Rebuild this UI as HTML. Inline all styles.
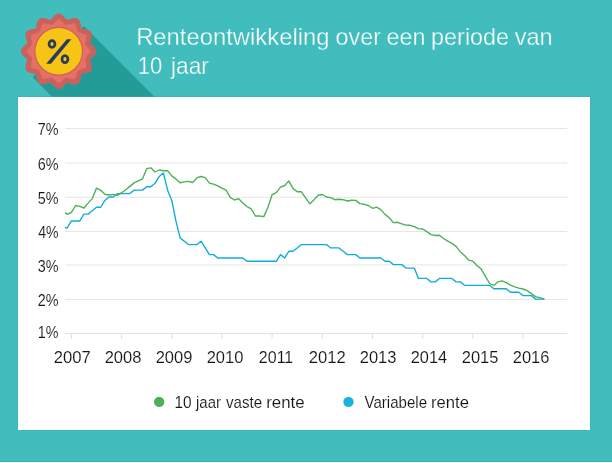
<!DOCTYPE html>
<html><head><meta charset="utf-8"><title>Renteontwikkeling</title>
<style>
html,body{margin:0;padding:0;background:#41bdbd;}
body{width:612px;height:463px;overflow:hidden;font-family:"Liberation Sans",sans-serif;}
svg{display:block}
text{font-family:"Liberation Sans",sans-serif;}
</style></head><body>
<svg width="612" height="463" viewBox="0 0 612 463">
<defs><filter id="gs" x="-5%" y="-30%" width="110%" height="160%" color-interpolation-filters="sRGB"><feOffset dx="0" dy="0"/></filter></defs>
<rect width="612" height="463" fill="#41bdbd"/>
<rect y="462" width="612" height="1" fill="#f4fbfb"/>
<rect y="461" width="612" height="1" fill="#39b4b3"/>
<!-- long shadow -->
<polygon points="83.8,26.1 154.7,97 52.3,97 32.6,77.3" fill="#239b97"/>
<!-- panel -->
<rect x="17.5" y="96.5" width="573" height="334" fill="#35b0af"/>
<rect x="18" y="97" width="572" height="333" fill="#ffffff"/>
<!-- badge -->
<polygon points="58.70,13.55 59.36,13.60 60.01,13.73 60.65,13.95 61.29,14.26 61.90,14.64 62.50,15.08 63.08,15.59 63.64,16.13 64.17,16.71 64.69,17.30 65.18,17.90 65.67,18.48 66.14,19.02 66.62,19.50 67.11,19.86 67.72,19.80 68.37,19.62 69.05,19.39 69.76,19.13 70.49,18.86 71.23,18.60 71.98,18.37 72.74,18.17 73.49,18.03 74.23,17.94 74.96,17.92 75.66,17.97 76.32,18.10 76.96,18.31 77.55,18.60 78.10,18.97 78.59,19.41 79.04,19.93 79.44,20.51 79.78,21.14 80.07,21.83 80.32,22.55 80.53,23.30 80.71,24.07 80.86,24.84 80.99,25.61 81.12,26.35 81.26,27.06 81.43,27.71 81.68,28.27 82.24,28.52 82.89,28.69 83.60,28.83 84.34,28.96 85.11,29.09 85.88,29.24 86.65,29.42 87.40,29.63 88.12,29.88 88.81,30.17 89.44,30.51 90.02,30.91 90.54,31.36 90.98,31.85 91.35,32.40 91.64,32.99 91.85,33.63 91.98,34.29 92.03,34.99 92.01,35.72 91.92,36.46 91.78,37.21 91.58,37.97 91.35,38.72 91.09,39.46 90.82,40.19 90.56,40.90 90.33,41.58 90.15,42.23 90.09,42.84 90.45,43.33 90.93,43.81 91.47,44.28 92.05,44.77 92.65,45.26 93.24,45.78 93.82,46.31 94.36,46.87 94.87,47.45 95.31,48.05 95.69,48.66 96.00,49.30 96.22,49.94 96.35,50.59 96.40,51.25 96.35,51.91 96.22,52.56 96.00,53.20 95.69,53.84 95.31,54.45 94.87,55.05 94.36,55.63 93.82,56.19 93.24,56.72 92.65,57.24 92.05,57.73 91.47,58.22 90.93,58.69 90.45,59.17 90.09,59.66 90.15,60.27 90.33,60.92 90.56,61.60 90.82,62.31 91.09,63.04 91.35,63.78 91.58,64.53 91.78,65.29 91.92,66.04 92.01,66.78 92.03,67.51 91.98,68.21 91.85,68.87 91.64,69.51 91.35,70.10 90.98,70.65 90.54,71.14 90.02,71.59 89.44,71.99 88.81,72.33 88.12,72.62 87.40,72.87 86.65,73.08 85.88,73.26 85.11,73.41 84.34,73.54 83.60,73.67 82.89,73.81 82.24,73.98 81.68,74.23 81.43,74.79 81.26,75.44 81.12,76.15 80.99,76.89 80.86,77.66 80.71,78.43 80.53,79.20 80.32,79.95 80.07,80.67 79.78,81.36 79.44,81.99 79.04,82.57 78.59,83.09 78.10,83.53 77.55,83.90 76.96,84.19 76.32,84.40 75.66,84.53 74.96,84.58 74.23,84.56 73.49,84.47 72.74,84.33 71.98,84.13 71.23,83.90 70.49,83.64 69.76,83.37 69.05,83.11 68.37,82.88 67.72,82.70 67.11,82.64 66.62,83.00 66.14,83.48 65.67,84.02 65.18,84.60 64.69,85.20 64.17,85.79 63.64,86.37 63.08,86.91 62.50,87.42 61.90,87.86 61.29,88.24 60.65,88.55 60.01,88.77 59.36,88.90 58.70,88.95 58.04,88.90 57.39,88.77 56.75,88.55 56.11,88.24 55.50,87.86 54.90,87.42 54.32,86.91 53.76,86.37 53.23,85.79 52.71,85.20 52.22,84.60 51.73,84.02 51.26,83.48 50.78,83.00 50.29,82.64 49.68,82.70 49.03,82.88 48.35,83.11 47.64,83.37 46.91,83.64 46.17,83.90 45.42,84.13 44.66,84.33 43.91,84.47 43.17,84.56 42.44,84.58 41.74,84.53 41.08,84.40 40.44,84.19 39.85,83.90 39.30,83.53 38.81,83.09 38.36,82.57 37.96,81.99 37.62,81.36 37.33,80.67 37.08,79.95 36.87,79.20 36.69,78.43 36.54,77.66 36.41,76.89 36.28,76.15 36.14,75.44 35.97,74.79 35.72,74.23 35.16,73.98 34.51,73.81 33.80,73.67 33.06,73.54 32.29,73.41 31.52,73.26 30.75,73.08 30.00,72.87 29.28,72.62 28.59,72.33 27.96,71.99 27.38,71.59 26.86,71.14 26.42,70.65 26.05,70.10 25.76,69.51 25.55,68.87 25.42,68.21 25.37,67.51 25.39,66.78 25.48,66.04 25.62,65.29 25.82,64.53 26.05,63.78 26.31,63.04 26.58,62.31 26.84,61.60 27.07,60.92 27.25,60.27 27.31,59.66 26.95,59.17 26.47,58.69 25.93,58.22 25.35,57.73 24.75,57.24 24.16,56.72 23.58,56.19 23.04,55.63 22.53,55.05 22.09,54.45 21.71,53.84 21.40,53.20 21.18,52.56 21.05,51.91 21.00,51.25 21.05,50.59 21.18,49.94 21.40,49.30 21.71,48.66 22.09,48.05 22.53,47.45 23.04,46.87 23.58,46.31 24.16,45.78 24.75,45.26 25.35,44.77 25.93,44.28 26.47,43.81 26.95,43.33 27.31,42.84 27.25,42.23 27.07,41.58 26.84,40.90 26.58,40.19 26.31,39.46 26.05,38.72 25.82,37.97 25.62,37.21 25.48,36.46 25.39,35.72 25.37,34.99 25.42,34.29 25.55,33.63 25.76,32.99 26.05,32.40 26.42,31.85 26.86,31.36 27.38,30.91 27.96,30.51 28.59,30.17 29.28,29.88 30.00,29.63 30.75,29.42 31.52,29.24 32.29,29.09 33.06,28.96 33.80,28.83 34.51,28.69 35.16,28.52 35.72,28.27 35.97,27.71 36.14,27.06 36.28,26.35 36.41,25.61 36.54,24.84 36.69,24.07 36.87,23.30 37.08,22.55 37.33,21.83 37.62,21.14 37.96,20.51 38.36,19.93 38.81,19.41 39.30,18.97 39.85,18.60 40.44,18.31 41.08,18.10 41.74,17.97 42.44,17.92 43.17,17.94 43.91,18.03 44.66,18.17 45.42,18.37 46.17,18.60 46.91,18.86 47.64,19.13 48.35,19.39 49.03,19.62 49.68,19.80 50.29,19.86 50.78,19.50 51.26,19.02 51.73,18.48 52.22,17.90 52.71,17.30 53.23,16.71 53.76,16.13 54.32,15.59 54.90,15.08 55.50,14.64 56.11,14.26 56.75,13.95 57.39,13.73 58.04,13.60" fill="#c9625d"/>
<polygon points="58.70,19.25 65.69,25.17 74.70,23.54 77.79,32.16 86.41,35.25 84.78,44.26 90.70,51.25 84.78,58.24 86.41,67.25 77.79,70.34 74.70,78.96 65.69,77.33 58.70,83.25 51.71,77.33 42.70,78.96 39.61,70.34 30.99,67.25 32.62,58.24 26.70,51.25 32.62,44.26 30.99,35.25 39.61,32.16 42.70,23.54 51.71,25.17" fill="#e66f66" stroke="#e66f66" stroke-width="0.6" stroke-linejoin="round"/>
<circle cx="58.7" cy="51.25" r="24.4" fill="#c9625d"/>
<circle cx="58.7" cy="51.25" r="23.2" fill="#f5c414"/>
<g fill="none" stroke="#2a3a5c" stroke-width="2.7">
<ellipse cx="52" cy="43.95" rx="2.95" ry="3.4"/>
<ellipse cx="64.95" cy="59.15" rx="2.95" ry="3.5"/>
</g>
<polygon points="66.9,39.2 71.3,39.2 51,63.8 46.2,63.8" fill="#2a3a5c"/>
<!-- title -->
<g filter="url(#gs)" fill="#ffffff" font-size="23.4px" stroke="#41bdbd" stroke-width="0.3"><text transform="translate(136.16,44.80) scale(1.0185,1)">Renteontwikkeling</text><text transform="translate(335.60,44.80) scale(0.9977,1)">over</text><text transform="translate(386.60,44.80) scale(0.9973,1)">een</text><text transform="translate(431.10,44.80) scale(1.0000,1)">periode</text><text transform="translate(514.65,44.80) scale(1.0056,1)">van</text><text transform="translate(137.74,73.80) scale(0.9462,1)">10</text><text transform="translate(171.08,73.80) scale(0.9692,1)">jaar</text></g>
<!-- chart -->
<rect x="65.2" y="298.90" width="502" height="1" fill="#e6e6e6"/><rect x="65.2" y="264.45" width="502" height="1" fill="#e6e6e6"/><rect x="65.2" y="231.00" width="502" height="1" fill="#e6e6e6"/><rect x="65.2" y="196.80" width="502" height="1" fill="#e6e6e6"/><rect x="65.2" y="162.50" width="502" height="1" fill="#e6e6e6"/><rect x="65.2" y="127.95" width="502" height="1" fill="#e6e6e6"/>
<rect x="65.2" y="333" width="502" height="1" fill="#d6e0ef"/>
<rect x="70.90" y="333" width="1" height="6" fill="#d6e0ef"/><rect x="121.08" y="333" width="1" height="6" fill="#d6e0ef"/><rect x="171.26" y="333" width="1" height="6" fill="#d6e0ef"/><rect x="221.44" y="333" width="1" height="6" fill="#d6e0ef"/><rect x="271.62" y="333" width="1" height="6" fill="#d6e0ef"/><rect x="321.80" y="333" width="1" height="6" fill="#d6e0ef"/><rect x="371.98" y="333" width="1" height="6" fill="#d6e0ef"/><rect x="422.16" y="333" width="1" height="6" fill="#d6e0ef"/><rect x="472.34" y="333" width="1" height="6" fill="#d6e0ef"/><rect x="522.52" y="333" width="1" height="6" fill="#d6e0ef"/>
<g filter="url(#gs)" font-size="16.6px" fill="#151515" stroke="#fff" stroke-width="0.12"><text transform="translate(37.82,337.85) scale(0.8629,1)">1%</text><text transform="translate(37.75,306.00) scale(0.8659,1)">2%</text><text transform="translate(37.75,271.55) scale(0.8659,1)">3%</text><text transform="translate(38.19,238.10) scale(0.8473,1)">4%</text><text transform="translate(37.75,203.90) scale(0.8659,1)">5%</text><text transform="translate(37.75,169.60) scale(0.8659,1)">6%</text><text transform="translate(37.75,135.05) scale(0.8659,1)">7%</text><text transform="translate(53.65,362.90) scale(1.0014,1)">2007</text><text transform="translate(104.66,362.90) scale(0.9944,1)">2008</text><text transform="translate(155.67,362.90) scale(0.9944,1)">2009</text><text transform="translate(206.68,362.90) scale(0.9944,1)">2010</text><text transform="translate(258.87,362.90) scale(0.9635,1)">2011</text><text transform="translate(308.70,362.90) scale(1.0014,1)">2012</text><text transform="translate(359.71,362.90) scale(0.9944,1)">2013</text><text transform="translate(410.73,362.90) scale(0.9874,1)">2014</text><text transform="translate(461.73,362.90) scale(0.9944,1)">2015</text><text transform="translate(512.74,362.90) scale(0.9944,1)">2016</text></g>
<clipPath id="cp"><rect x="65.2" y="120" width="502" height="214"/></clipPath>
<g clip-path="url(#cp)" fill="none" stroke-width="1.38" stroke-linejoin="round" stroke-linecap="round">
<polyline points="63.0,227.78 67.2,227.78 71.4,220.94 75.6,220.94 79.8,220.94 83.9,214.10 88.1,214.10 92.3,210.68 96.5,207.26 100.7,207.26 104.9,200.42 109.0,197.00 113.2,197.00 117.4,193.57 121.6,193.57 125.8,193.57 129.9,193.57 134.1,190.14 138.3,190.14 142.5,190.14 146.7,186.71 150.9,186.71 155.0,183.28 159.2,176.42 163.4,172.99 167.6,190.14 171.8,200.42 175.9,220.94 180.1,237.89 184.3,241.23 188.5,244.58 192.7,244.58 196.9,244.58 201.0,241.23 205.2,247.92 209.4,254.61 213.6,254.61 217.8,257.96 221.9,257.96 226.1,257.96 230.3,257.96 234.5,257.96 238.7,257.96 242.8,257.96 247.0,261.30 251.2,261.30 255.4,261.30 259.6,261.30 263.8,261.30 267.9,261.30 272.1,261.30 276.3,261.30 280.5,254.61 284.7,257.96 288.8,251.27 293.0,251.27 297.2,247.92 301.4,244.58 305.6,244.58 309.8,244.58 313.9,244.58 318.1,244.58 322.3,244.58 326.5,244.58 330.7,247.92 334.8,247.92 339.0,247.92 343.2,251.27 347.4,254.61 351.6,254.61 355.8,254.61 359.9,257.96 364.1,257.96 368.3,257.96 372.5,257.96 376.7,257.96 380.8,257.96 385.0,261.30 389.2,261.30 393.4,264.65 397.6,264.65 401.8,264.65 405.9,268.09 410.1,268.09 414.3,268.09 418.5,278.43 422.7,278.43 426.8,278.43 431.0,281.87 435.2,281.87 439.4,278.43 443.6,278.43 447.8,278.43 451.9,278.43 456.1,281.87 460.3,281.87 464.5,285.32 468.7,285.32 472.8,285.32 477.0,285.32 481.2,285.32 485.4,285.32 489.6,285.32 493.8,288.76 497.9,288.76 502.1,288.76 506.3,288.76 510.5,292.21 514.7,292.21 518.8,292.21 523.0,295.65 527.2,295.65 531.4,295.65 535.6,299.10 539.8,299.10 543.9,299.10" stroke="#10acda"/>
<polyline points="63.0,211.2 67.2,214.3 71.4,212.3 75.6,205.5 79.8,206.4 83.9,208.0 88.1,203.1 92.3,198.6 96.5,188.1 100.7,190.3 104.9,194.2 109.0,195.0 113.2,194.4 117.4,195.3 121.6,192.7 125.8,189.8 129.9,186.4 134.1,182.9 138.3,180.8 142.5,178.8 146.7,168.7 150.9,167.8 155.0,172.0 159.2,170.0 163.4,170.7 167.6,170.7 171.8,175.9 175.9,178.9 180.1,182.7 184.3,181.9 188.5,181.4 192.7,182.5 196.9,177.9 201.0,176.5 205.2,177.6 209.4,183.2 213.6,184.2 217.8,185.9 221.9,188.1 226.1,190.2 230.3,197.3 234.5,200.0 238.7,198.7 242.8,202.9 247.0,206.6 251.2,208.8 255.4,216.0 259.6,216.0 263.8,216.6 267.9,207.5 272.1,194.7 276.3,192.6 280.5,187.2 284.7,185.5 288.8,180.9 293.0,188.4 297.2,191.8 301.4,191.8 305.6,197.9 309.8,203.8 313.9,199.9 318.1,195.3 322.3,194.5 326.5,197.0 330.7,197.6 334.8,199.7 339.0,199.2 343.2,199.7 347.4,201.0 351.6,200.2 355.8,200.4 359.9,203.6 364.1,204.3 368.3,205.5 372.5,208.3 376.7,207.2 380.8,209.6 385.0,214.4 389.2,217.7 393.4,222.6 397.6,222.3 401.8,223.8 405.9,225.1 410.1,225.3 414.3,226.7 418.5,228.6 422.7,229.0 426.8,231.7 431.0,234.6 435.2,235.5 439.4,235.3 443.6,238.5 447.8,241.1 451.9,243.4 456.1,246.4 460.3,251.8 464.5,255.5 468.7,260.1 472.8,261.2 477.0,265.5 481.2,269.1 485.4,276.3 489.6,283.5 493.8,285.5 497.9,281.8 502.1,280.8 506.3,282.7 510.5,285.1 514.7,286.8 518.8,288.1 523.0,289.0 527.2,290.6 531.4,293.6 535.6,296.6 539.8,297.6 543.9,298.8" stroke="#4cb05a"/>
</g>
<!-- legend -->
<circle cx="159.2" cy="401.9" r="5.2" fill="#4cb05a"/>
<circle cx="348.5" cy="401.9" r="5.2" fill="#1cb2de"/>
<g filter="url(#gs)" font-size="16.6px" fill="#151515" stroke="#fff" stroke-width="0.12"><text transform="translate(174.54,407.80) scale(0.9273,1)">10</text><text transform="translate(196.05,407.80) scale(0.9000,1)">jaar</text><text transform="translate(226.00,407.80) scale(0.9103,1)">vaste</text><text transform="translate(266.18,407.80) scale(1.0167,1)">rente</text><text transform="translate(364.50,407.80) scale(0.9084,1)">Variabele</text><text transform="translate(431.00,407.80) scale(1.0028,1)">rente</text></g>
</svg>
</body></html>
